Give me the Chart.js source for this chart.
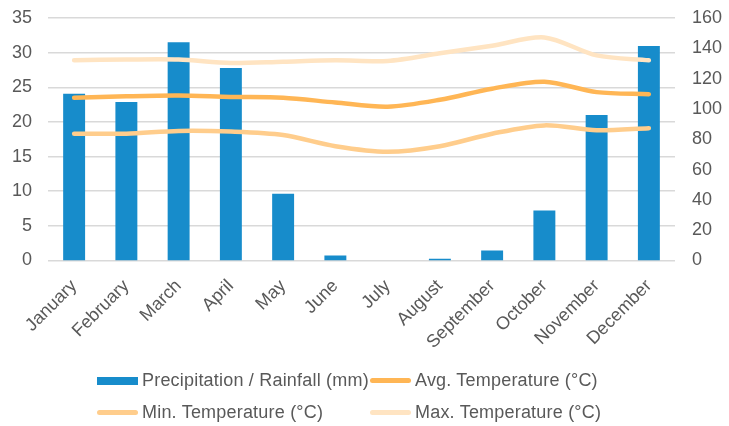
<!DOCTYPE html>
<html>
<head>
<meta charset="utf-8">
<script src="https://cdn.jsdelivr.net/npm/chart.js@4/dist/chart.umd.min.js"></script>
<style>
  body { margin: 0; background: #fff; font-family: "Liberation Sans", Arial, sans-serif; }
  #wrap { position: relative; width: 729px; height: 426px; }
  #legend { position: absolute; left: 97px; top: 370px; display: grid; grid-template-columns: 273px 260px; row-gap: 11px; color: #595959; font-size: 18px; letter-spacing: 0.2px; }
  .item { display: flex; align-items: center; height: 21px; }
  .sw { width: 41px; margin-right: 4px; }
</style>
</head>
<body>
<div id="wrap">
  <canvas id="chart" width="729" height="426"></canvas>
  <div id="legend"></div>
</div>
<script>
const months = ['January', 'February', 'March', 'April', 'May', 'June', 'July', 'August', 'September', 'October', 'November', 'December'];
const rainfall = [110, 104.5, 144, 127, 44, 3.2, 0, 1.1, 6.6, 33, 96, 141.5];
const avgTemp = [23.5, 23.7, 23.8, 23.6, 23.5, 22.8, 22.2, 23.2, 24.8, 25.8, 24.3, 24.0];
const minTemp = [18.3, 18.3, 18.7, 18.6, 18.1, 16.5, 15.7, 16.5, 18.3, 19.5, 18.8, 19.1];
const maxTemp = [28.9, 29.0, 29.0, 28.5, 28.7, 28.9, 28.8, 29.9, 31.0, 32.2, 29.6, 28.9];

const colors = {
    rain: '#178CCB',
    avg: '#FFB655',
    min: '#FFCD8C',
    max: '#FFE4C2'
};
const textColor = '#595959';
const tickFont = { family: 'Liberation Sans', size: 18 };

function lineSet(label, data, color, order) {
    return {
        type: 'line',
        label: label,
        data: data,
        yAxisID: 'y',
        borderColor: color,
        backgroundColor: color,
        borderWidth: 4.5,
        borderCapStyle: 'round',
        borderJoinStyle: 'round',
        pointRadius: 0,
        tension: 0.3,
        order: order
    };
}

// pin the vertical axes so the plot area lands where the original has it
function pinAxis(width) {
    return (scale) => {
        scale.width = width;
        scale.paddingTop = 18;
        scale.paddingBottom = 10;
    };
}

const ctx = document.getElementById('chart').getContext('2d');
new Chart(ctx, {
    type: 'bar',
    data: {
        labels: months,
        datasets: [
            {
                type: 'bar',
                label: 'Precipitation / Rainfall (mm)',
                data: rainfall,
                yAxisID: 'y1',
                backgroundColor: colors.rain,
                barPercentage: 0.42,
                categoryPercentage: 1,
                order: 10
            },
            lineSet('Avg. Temperature (°C)', avgTemp, colors.avg, 1),
            lineSet('Min. Temperature (°C)', minTemp, colors.min, 2),
            lineSet('Max. Temperature (°C)', maxTemp, colors.max, 3)
        ]
    },
    options: {
        responsive: false,
        animation: false,
        layout: { padding: { top: 0, bottom: 66, left: 0, right: 0 } },
        plugins: {
            legend: { display: false },
            tooltip: { enabled: false }
        },
        scales: {
            x: {
                grid: { display: false },
                border: { display: false },
                ticks: { color: textColor, font: tickFont, maxRotation: 45, minRotation: 45, padding: 7 }
            },
            y: {
                position: 'left',
                min: 0,
                max: 35,
                ticks: { stepSize: 5, color: textColor, font: tickFont, padding: 16 },
                grid: { color: '#D9D9D9', lineWidth: 1.5, drawTicks: false },
                border: { display: false },
                afterFit: pinAxis(48)
            },
            y1: {
                position: 'right',
                min: 0,
                max: 160,
                ticks: { stepSize: 20, color: textColor, font: tickFont, padding: 17 },
                grid: { display: false, drawTicks: false },
                border: { display: false },
                afterFit: pinAxis(54)
            }
        }
    }
});

// legend laid out in two columns like the original
const legendItems = [
    ['Precipitation / Rainfall (mm)', colors.rain, 'box'],
    ['Avg. Temperature (°C)', colors.avg, 'line'],
    ['Min. Temperature (°C)', colors.min, 'line'],
    ['Max. Temperature (°C)', colors.max, 'line']
];
const legend = document.getElementById('legend');
legendItems.forEach(([label, color, kind]) => {
    const item = document.createElement('div');
    item.className = 'item';
    const sw = document.createElement('span');
    sw.className = 'sw';
    sw.style.background = color;
    sw.style.height = kind === 'box' ? '8px' : '5px';
    if (kind === 'line') sw.style.borderRadius = '3px';
    const txt = document.createElement('span');
    txt.textContent = label;
    item.appendChild(sw);
    item.appendChild(txt);
    legend.appendChild(item);
});
</script>
</body>
</html>
